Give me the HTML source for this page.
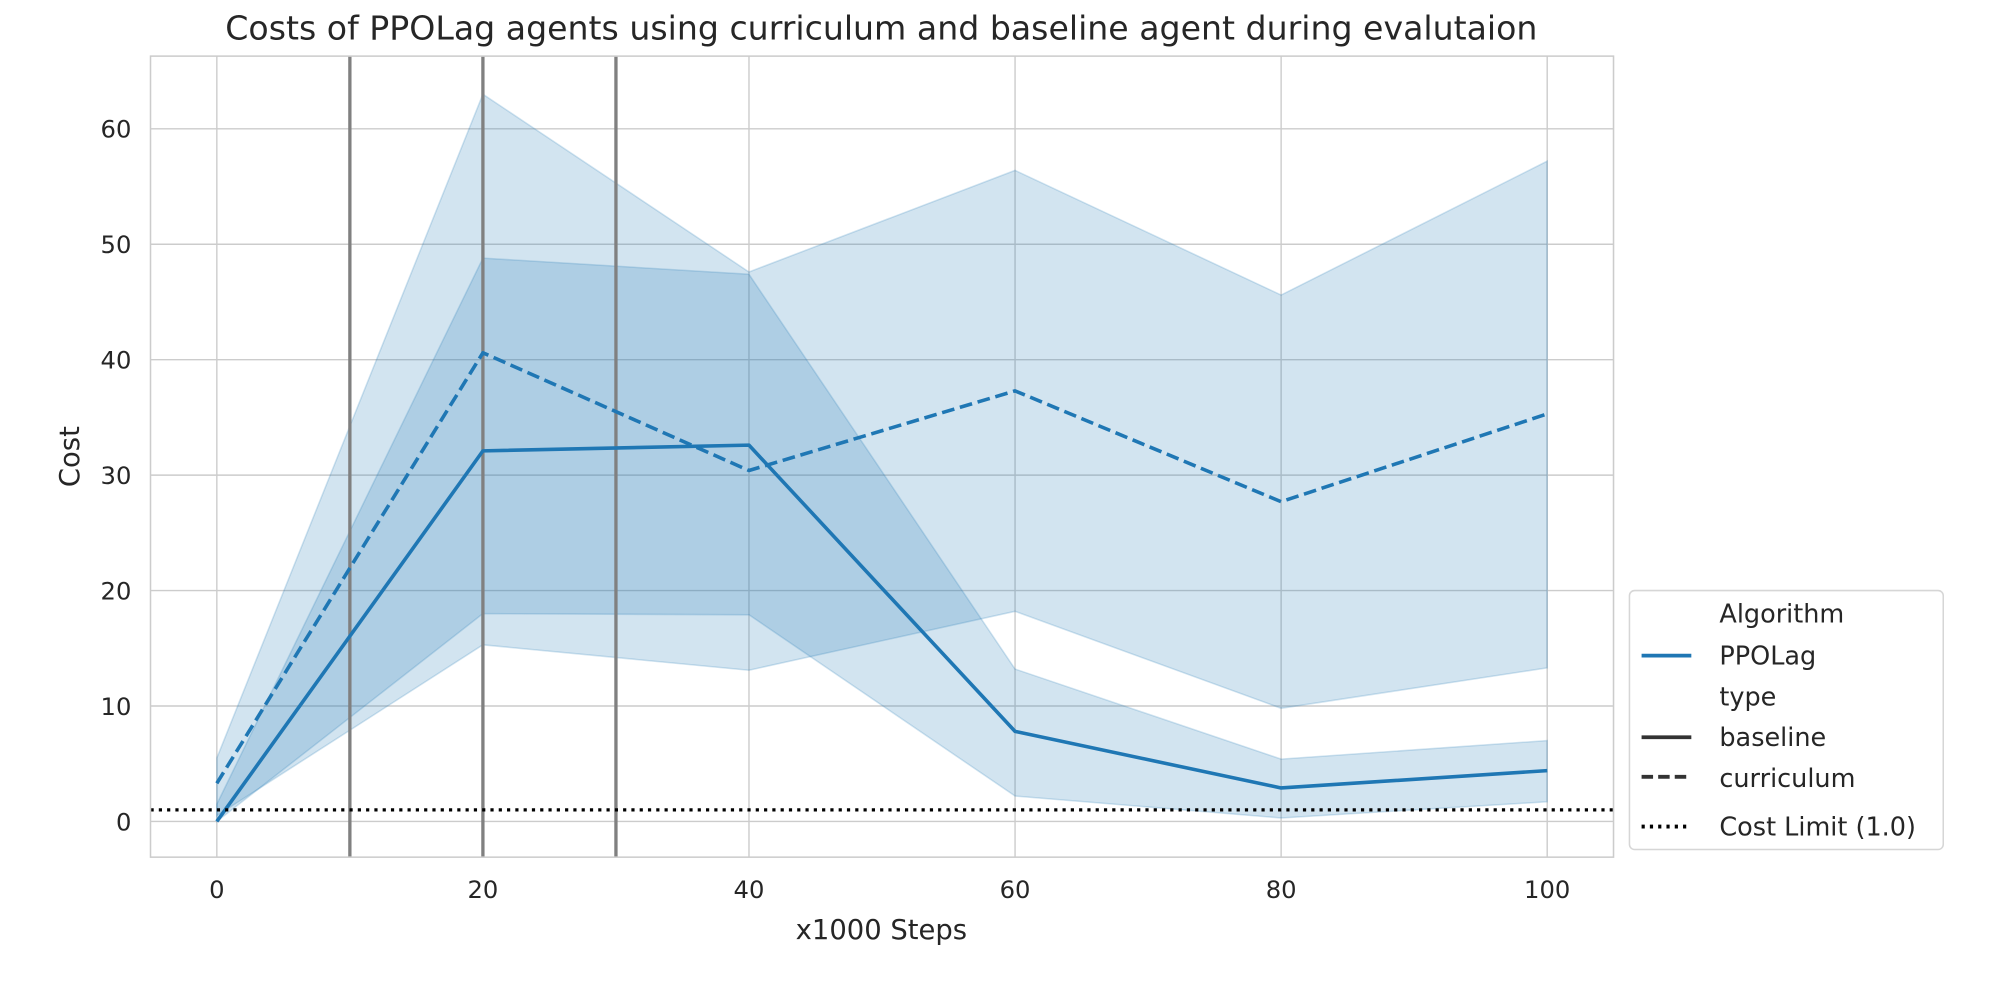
<!DOCTYPE html>
<html><head><meta charset="utf-8"><style>
html,body{margin:0;padding:0;background:#fff}
svg{display:block;font-family:"DejaVu Sans","Liberation Sans",sans-serif}
</style></head><body>
<svg id="chart" width="2000" height="1000" viewBox="0 0 1568 784" xmlns="http://www.w3.org/2000/svg">
<text x="691" y="31" text-anchor="middle" font-size="26" fill="#262626">Costs of PPOLag agents using curriculum and baseline agent during evalutaion</text>
<g id="grid"></g>
<g id="bands"></g>
<g id="vlines"></g>
<g id="lines"></g>
<rect x="118" y="44" width="1147" height="628" fill="none" stroke="#cccccc" stroke-width="1.2"/>
<g id="ticks" font-size="19" fill="#262626"></g>
<text x="691" y="736" text-anchor="middle" font-size="21.5" fill="#262626">x1000 Steps</text>
<text transform="translate(62,358) rotate(-90)" text-anchor="middle" font-size="21.5" fill="#262626">Cost</text>
<g>
<rect x="1277.5" y="463" width="246" height="203" rx="4" fill="#fff" fill-opacity="0.85" stroke="#d6d6d6" stroke-width="1.2"/>
<text x="1348" y="488" font-size="20" fill="#262626">Algorithm</text>
<line x1="1287" y1="514" x2="1326" y2="514" stroke="#1f77b4" stroke-width="3"/>
<text x="1348" y="521" font-size="20" fill="#262626">PPOLag</text>
<text x="1348" y="553" font-size="20" fill="#262626">type</text>
<line x1="1287" y1="578" x2="1326" y2="578" stroke="#333" stroke-width="3"/>
<text x="1348" y="585" font-size="20" fill="#262626">baseline</text>
<line x1="1287" y1="609" x2="1326" y2="609" stroke="#333" stroke-width="3" stroke-dasharray="9,4"/>
<text x="1348" y="617" font-size="20" fill="#262626">curriculum</text>
<line x1="1287" y1="648" x2="1326" y2="648" stroke="#000" stroke-width="3" stroke-dasharray="2.5,4"/>
<text x="1348" y="655" font-size="20" fill="#262626">Cost Limit (1.0)</text>
</g>
</svg>
<script>
const steps = [0, 20, 40, 60, 80, 100];
const baselineMean = [0, 32.1, 32.6, 7.8, 2.9, 4.4];
const baselineLow = [0, 18.0, 17.9, 2.2, 0.3, 1.7];
const baselineHigh = [1.5, 48.8, 47.4, 13.2, 5.4, 7.0];
const curriculumMean = [3.3, 40.6, 30.4, 37.3, 27.7, 35.3];
const curriculumLow = [0.5, 15.3, 13.1, 18.2, 9.8, 13.3];
const curriculumHigh = [5.5, 63.0, 47.6, 56.4, 45.6, 57.2];
const xTicks = [0, 20, 40, 60, 80, 100];
const yTicks = [0, 10, 20, 30, 40, 50, 60];
const phaseLines = [10, 20, 30];
const costLimit = 1.0;

const NS = "http://www.w3.org/2000/svg";
const X = v => 170 + (1213 - 170) * v / 100;
const Y = v => 644 - (644 - 101) * v / 60;
function mk(tag, attrs, parent) {
  const e = document.createElementNS(NS, tag);
  for (const k in attrs) e.setAttribute(k, attrs[k]);
  document.getElementById(parent).appendChild(e);
  return e;
}
yTicks.forEach(t => {
  const l = mk('line', {x1:118, x2:1265, y1:Y(t), y2:Y(t), stroke:'#cccccc', 'stroke-width':1.1}, 'grid');
  
  
  const tx = mk('text', {x:103, y:Y(t)+7, 'text-anchor':'end'}, 'ticks');
  tx.textContent = t;
  
  
});
xTicks.forEach(t => {
  const l = mk('line', {x1:X(t), x2:X(t), y1:44, y2:672, stroke:'#cccccc', 'stroke-width':1.1}, 'grid');
  
  
  const tx = mk('text', {x:X(t), y:704, 'text-anchor':'middle'}, 'ticks');
  tx.textContent = t;
  
  
});
function band(lo, hi, name) {
  let d = steps.map((s,i) => (i?'L':'M') + X(s) + ',' + Y(hi[i])).join(' ');
  for (let i = steps.length-1; i >= 0; i--) d += ' L' + X(steps[i]) + ',' + Y(lo[i]);
  const p = mk('path', {d: d + ' Z', fill:'#1f77b4', 'fill-opacity':0.2, stroke:'#1f77b4', 'stroke-opacity':0.2, 'stroke-width':1.2}, 'bands');
  
  
}
band(curriculumLow, curriculumHigh, 'curriculum-band');
band(baselineLow, baselineHigh, 'baseline-band');
phaseLines.forEach(v => {
  const l = mk('line', {x1:X(v), x2:X(v), y1:44, y2:672, stroke:'#808080', 'stroke-width':2.6}, 'vlines');
  
  
});
function line(vals, name, dash) {
  const d = steps.map((s,i) => (i?'L':'M') + X(s) + ',' + Y(vals[i])).join(' ');
  const p = mk('path', {d, fill:'none', stroke:'#1f77b4', 'stroke-width':2.8, 'stroke-linejoin':'round'}, 'lines');
  if (dash) p.setAttribute('stroke-dasharray', dash);
  
  
}
line(baselineMean, 'baseline-line', null);
line(curriculumMean, 'curriculum-line', '10,4.5');
const cl = mk('line', {x1:118, x2:1265, y1:Y(costLimit), y2:Y(costLimit), stroke:'#000', 'stroke-width':2.6, 'stroke-dasharray':'2.5,4'}, 'lines');


</script>
</body></html>
